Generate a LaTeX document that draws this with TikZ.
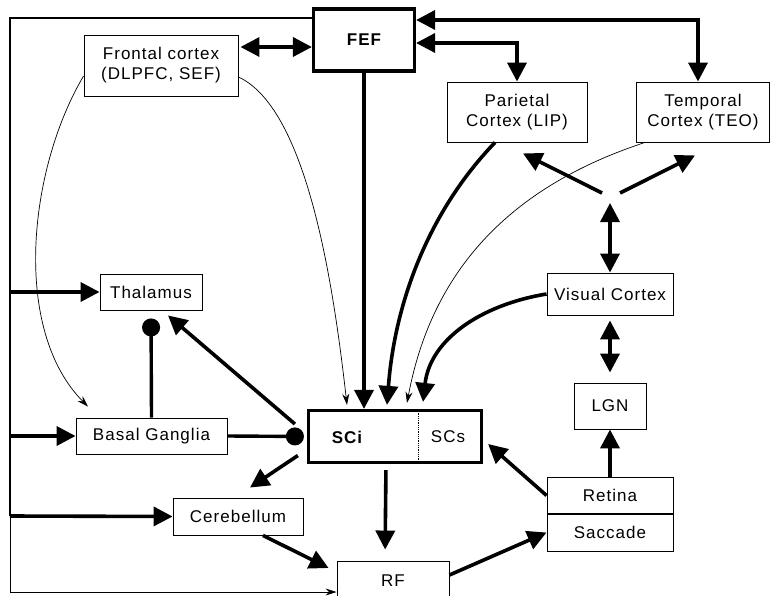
\documentclass[tikz,border=0pt]{standalone}
\usepackage{fontspec}
\setmainfont[LetterSpace=6]{Liberation Sans}
\usetikzlibrary{arrows.meta}
\begin{document}
\begin{tikzpicture}[x=1pt,y=-1pt,
  box/.style={draw, line width=0.9pt, align=center, inner sep=0pt, font=\fontsize{17}{20}\selectfont},
  bigbox/.style={draw, line width=3.2pt, inner sep=0pt},
  lbl/.style={inner sep=0pt, font=\fontsize{17}{20}\selectfont},
  arr/.style={line width=3.6pt, -{Triangle[length=19pt,width=19pt]}},
  dbl/.style={line width=3.6pt, {Triangle[length=19pt,width=19pt]}-{Triangle[length=19pt,width=19pt]}},
  thin/.style={line width=0.7pt, -{Stealth[length=11pt,width=7pt]}},
  inh/.style={line width=3.4pt, -{Circle[length=18pt]}},
  trunk/.style={line width=2.4pt}
]
\useasboundingbox (0,0) rectangle (770,596);
\clip (0,0) rectangle (770,596);

% boxes
\node[bigbox, minimum width=101pt, minimum height=62pt, font=\fontsize{17}{20}\selectfont\bfseries] (fef) at (364,40) {FEF};
\node[box, minimum width=154pt, minimum height=61pt] (frontal) at (161,65.5) {Frontal cortex\\(DLPFC, SEF)};
\node[box, minimum width=140pt, minimum height=60pt] (parietal) at (517,112) {Parietal\\Cortex (LIP)};
\node[box, minimum width=133pt, minimum height=60pt] (temporal) at (703,112) {Temporal\\Cortex (TEO)};
\node[box, minimum width=102pt, minimum height=36pt] (thal) at (151,292) {Thalamus};
\node[box, minimum width=126pt, minimum height=42pt] (visual) at (610,294) {Visual Cortex};
\node[box, minimum width=72pt, minimum height=46pt] (lgn) at (610,406) {LGN};
\node[box, minimum width=151pt, minimum height=36pt] (bg) at (151.5,436) {Basal Ganglia};
\node[bigbox, minimum width=173pt, minimum height=52pt] (sc) at (395,436.5) {};
\node[lbl, font=\fontsize{17}{20}\selectfont\bfseries] (sci) at (347,437) {SCi};
\node[lbl] (scs) at (448,437) {SCs};
\node[box, minimum width=130pt, minimum height=37pt] (cereb) at (238,516.5) {Cerebellum};
\node[box, minimum width=126pt, minimum height=37pt] (retina) at (610,495.5) {Retina};
\node[box, minimum width=126pt, minimum height=37pt] (sacc) at (610,532.5) {Saccade};
\node[box, minimum width=112pt, minimum height=40pt] (rf) at (393,581) {RF};
\draw[line width=2pt] (retina.south west) -- (retina.south east);
\draw[line width=0.8pt, densely dotted] ([xshift=111pt]sc.north west) -- ([xshift=111pt]sc.south west);

% left trunk
\coordinate (tl) at (10,18);
\coordinate (lth) at (10,292);
\coordinate (lbg) at (10,436);
\coordinate (lce) at (10,516);
\coordinate (lbot) at (10,592);
\coordinate (J) at (610,193);
\draw[trunk] ([yshift=22pt]fef.west) -- (tl) -- (lce);
\draw[line width=1pt] (lce) -- (lbot);
\draw[thin] (lbot) -- (lbot -| rf.west);
\draw[arr] (lth) -- (thal.west);
\draw[arr] (lbg) -- (bg.west);
\draw[arr] (lce) -- (cereb.west);

% FEF connections
\draw[dbl, shorten <=2pt] (frontal.east |- 0,47) -- (fef.west |- 0,47);
\draw[dbl] (fef.east |- 0,43) -| (parietal.north);
\draw[dbl] (fef.east |- 0,20) -| ([xshift=-5pt]temporal.north);
\draw[arr] (fef.south) -- (fef.south |- sc.north);

% thin frontal curves
\draw[thin] ([yshift=-10.5pt]frontal.west) .. controls (28,170) and (12,330) .. ([xshift=-63.5pt,yshift=11pt]bg.north);
\draw[thin] ([yshift=-11.5pt]frontal.east) .. controls (310,110) and (335,300) .. ([xshift=-48pt,yshift=4pt]sc.north);

% cortical inputs to SC
\draw[arr] ([xshift=-22pt]parietal.south) .. controls (430,210) and (395,300) .. ([xshift=-8pt,yshift=4pt]sc.north);
\draw[thin] ([xshift=-58pt]temporal.south) .. controls (500,190) and (430,280) .. ([xshift=12pt,yshift=6pt]sc.north);
\draw[arr] (visual.west) .. controls (480,305) and (430,340) .. ([xshift=28pt,yshift=7pt]sc.north);

% visual pathway
\draw[dbl, shorten <=10pt] (J) -- (visual.north);
\draw[arr] ([xshift=-8pt]J) -- ([xshift=6pt,yshift=-11pt]parietal.south);
\draw[arr] ([xshift=10pt]J) -- ([xshift=-8pt,yshift=-13pt]temporal.south);
\draw[dbl, shorten <=5pt, shorten >=10pt] (visual.south) -- (lgn.north);
\draw[arr] (retina.north) -- (lgn.south);
\draw[arr] (retina.west) -- ([xshift=5pt,yshift=-7.5pt]sc.east);

% SC outputs
\draw[arr] ([xshift=-12pt, yshift=12.5pt]sc.west) -- ([xshift=17pt,yshift=-5pt]thal.south);
\draw[arr] ([xshift=-9pt, yshift=-19pt]sc.west) -- ([xshift=12pt,yshift=10pt]cereb.north);
\draw[arr, shorten <=6pt, shorten >=11pt] ([xshift=-9pt]sc.south) -- ([xshift=-8pt]rf.north);
\draw[arr] ([xshift=25pt]cereb.south) -- ([xshift=-8pt,yshift=13pt]rf.west);
\draw[arr] ([yshift=6pt]rf.east) -- (sacc.west);

% inhibitory
\draw[inh, shorten >=8pt] (bg.north) -- (thal.south);
\draw[inh, shorten >=3pt] (bg.east) -- (sc.west);
\end{tikzpicture}
\end{document}
